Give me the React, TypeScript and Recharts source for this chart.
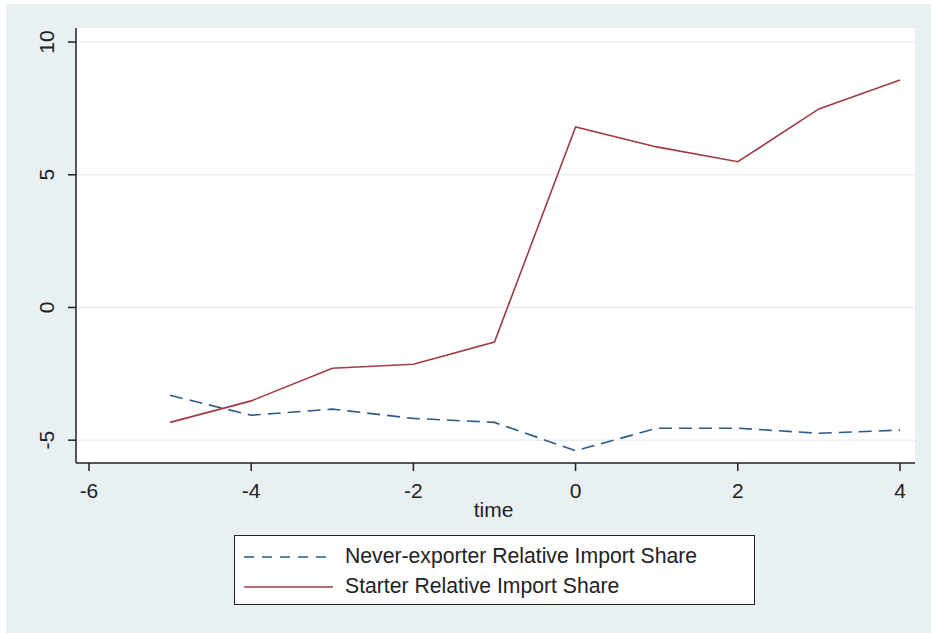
import { LineChart, Line, XAxis, YAxis, CartesianGrid, Label } from 'recharts'

// event time relative to export start
const times = [-5, -4, -3, -2, -1, 0, 1, 2, 3, 4]
const neverExporter = [-3.31, -4.06, -3.83, -4.18, -4.33, -5.4, -4.55, -4.55, -4.74, -4.62]
const starter = [-4.33, -3.52, -2.29, -2.14, -1.3, 6.8, 6.05, 5.49, 7.48, 8.57]

const xTicks = [-6, -4, -2, 0, 2, 4]
const yTicks = [-5, 0, 5, 10]

const seriesNames = ['Never-exporter Relative Import Share', 'Starter Relative Import Share']

const NAVY = '#2d5a86'
const MAROON = '#9e3b43'
const BG = '#e8f0f2'
const INK = '#222'
const FONT = '"Liberation Sans", Arial, sans-serif'

const data = times.map((t, i) => ({ t, never: neverExporter[i], starter: starter[i] }))

const YTick = (props: any) => {
  const { y, payload } = props
  const bx = 54
  return (
    <text
      x={bx}
      y={y}
      transform={`rotate(-90 ${bx} ${y})`}
      textAnchor="middle"
      fontSize={21}
      fontFamily={FONT}
      fill={INK}
    >
      {payload.value}
    </text>
  )
}

export default function App() {
  return (
    <div style={{ position: 'absolute', left: 0, top: 0, width: 931, height: 633, background: '#fff' }}>
      <div style={{ position: 'absolute', left: 6, top: 4, width: 925, height: 629, background: BG }} />
      <div style={{ position: 'absolute', left: 0, top: 0 }}>
        <LineChart width={931} height={633} data={data} margin={{ top: 28, right: 16, left: 6, bottom: 112 }}>
          <CartesianGrid vertical={false} fill="#fff" stroke={BG} strokeWidth={1.5} horizontalValues={yTicks} />
          <XAxis
            type="number"
            dataKey="t"
            domain={[-6.16, 4.185]}
            ticks={xTicks}
            allowDataOverflow
            height={58}
            stroke={INK}
            strokeWidth={1.5}
            tickSize={8}
            tickMargin={12}
            tick={{ fontSize: 21, fontFamily: FONT, fill: INK }}
          >
            <Label
              content={(p: any) => {
                const vb = p.viewBox
                return (
                  <text x={vb.x + vb.width / 2 - 2} y={517} textAnchor="middle" fontSize={21} fontFamily={FONT} fill={INK}>
                    time
                  </text>
                )
              }}
            />
          </XAxis>
          <YAxis
            type="number"
            domain={[-5.86, 10.53]}
            ticks={yTicks}
            allowDataOverflow
            width={70}
            stroke={INK}
            strokeWidth={1.5}
            tickSize={8}
            tick={<YTick />}
          />
          <Line
            type="linear"
            dataKey="never"
            stroke={NAVY}
            strokeWidth={1.6}
            strokeDasharray="13 7"
            dot={false}
            activeDot={false}
            isAnimationActive={false}
          />
          <Line
            type="linear"
            dataKey="starter"
            stroke={MAROON}
            strokeWidth={1.6}
            dot={false}
            activeDot={false}
            isAnimationActive={false}
          />
        </LineChart>
      </div>
      <div
        style={{
          position: 'absolute',
          left: 234,
          top: 535,
          width: 521,
          height: 70,
          boxSizing: 'border-box',
          border: `1.5px solid ${INK}`,
          background: '#fff',
          fontFamily: FONT,
          fontSize: 21.2,
          color: INK,
        }}
      >
        {seriesNames.map((name, i) => (
          <div key={name} style={{ position: 'absolute', left: 0, top: i === 0 ? 5 : 35, height: 30, display: 'flex', alignItems: 'center' }}>
            <svg width={110} height={30} style={{ display: 'block' }}>
              <line
                x1={9}
                x2={98}
                y1={16}
                y2={16}
                stroke={i === 0 ? NAVY : MAROON}
                strokeWidth={1.6}
                strokeDasharray={i === 0 ? '10 8' : undefined}
              />
            </svg>
            <span style={{ whiteSpace: 'nowrap' }}>{name}</span>
          </div>
        ))}
      </div>
    </div>
  )
}
